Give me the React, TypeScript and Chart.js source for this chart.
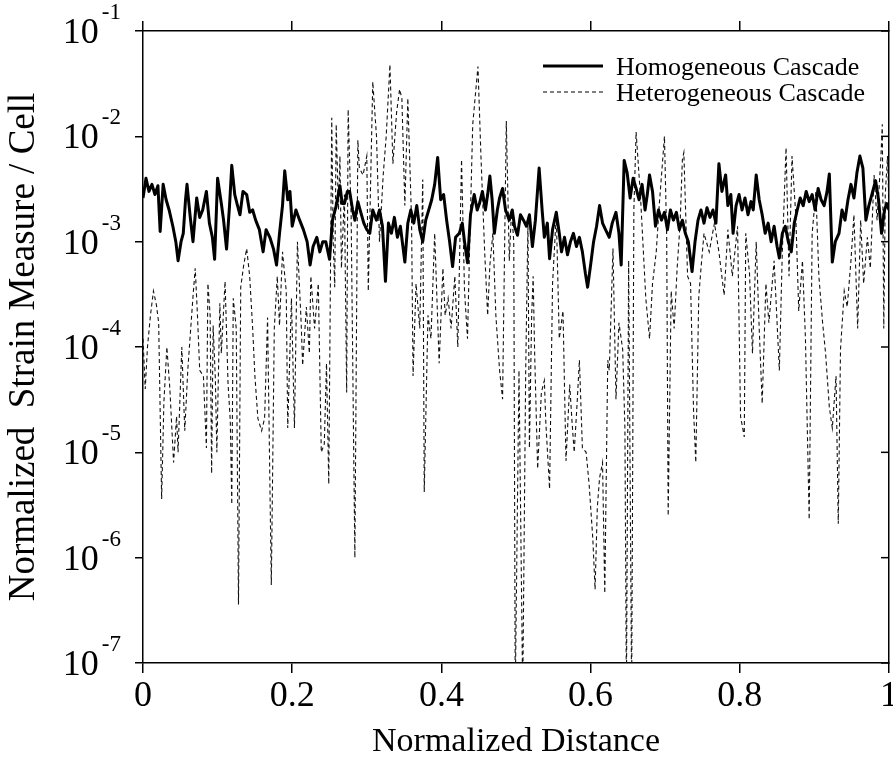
import React, { useEffect, useRef } from 'react';
import { Chart, registerables } from 'chart.js';

Chart.register(...registerables);

// ---------- data ----------
const homX = [
  0.000, 0.004, 0.008, 0.012, 0.016, 0.020, 0.023, 0.027, 0.031, 0.035, 0.040, 0.044, 0.047, 0.051, 0.054, 0.057, 0.059, 0.063, 0.067, 0.070,
  0.072, 0.076, 0.080, 0.085, 0.089, 0.093, 0.096, 0.100, 0.105, 0.108, 0.112, 0.116, 0.119, 0.123, 0.126, 0.130, 0.134, 0.139, 0.143, 0.147,
  0.151, 0.156, 0.161, 0.165, 0.170, 0.175, 0.179, 0.183, 0.187, 0.190, 0.194, 0.197, 0.200, 0.205, 0.210, 0.215, 0.220, 0.224, 0.228, 0.233,
  0.237, 0.241, 0.245, 0.250, 0.254, 0.259, 0.264, 0.267, 0.270, 0.274, 0.277, 0.281, 0.284, 0.288, 0.291, 0.296, 0.300, 0.304, 0.308, 0.313,
  0.317, 0.321, 0.325, 0.329, 0.333, 0.337, 0.341, 0.345, 0.351, 0.355, 0.359, 0.363, 0.367, 0.371, 0.375, 0.379, 0.383, 0.387, 0.391, 0.395,
  0.399, 0.403, 0.407, 0.411, 0.415, 0.419, 0.424, 0.428, 0.431, 0.435, 0.439, 0.444, 0.448, 0.451, 0.455, 0.459, 0.462, 0.465, 0.468, 0.471,
  0.475, 0.478, 0.482, 0.486, 0.491, 0.495, 0.498, 0.502, 0.506, 0.510, 0.514, 0.518, 0.522, 0.526, 0.531, 0.535, 0.538, 0.542, 0.545, 0.549,
  0.554, 0.558, 0.561, 0.565, 0.569, 0.573, 0.577, 0.581, 0.585, 0.589, 0.593, 0.596, 0.600, 0.604, 0.608, 0.612, 0.616, 0.620, 0.625, 0.629,
  0.634, 0.638, 0.641, 0.645, 0.649, 0.653, 0.657, 0.661, 0.665, 0.669, 0.673, 0.676, 0.679, 0.683, 0.687, 0.691, 0.695, 0.699, 0.703, 0.707,
  0.711, 0.715, 0.719, 0.723, 0.727, 0.731, 0.736, 0.740, 0.744, 0.748, 0.752, 0.756, 0.760, 0.764, 0.768, 0.772, 0.776, 0.781, 0.784, 0.788,
  0.791, 0.795, 0.799, 0.803, 0.807, 0.811, 0.815, 0.818, 0.822, 0.826, 0.830, 0.834, 0.838, 0.842, 0.846, 0.850, 0.853, 0.857, 0.861, 0.865,
  0.869, 0.873, 0.877, 0.881, 0.885, 0.889, 0.893, 0.897, 0.901, 0.905, 0.909, 0.913, 0.917, 0.920, 0.924, 0.928, 0.933, 0.937, 0.941, 0.945,
  0.949, 0.953, 0.957, 0.961, 0.965, 0.969, 0.973, 0.977, 0.982, 0.986, 0.990, 0.994, 0.997, 1.000,
];
const homY = [
  2.6e-3, 4.0e-3, 3.0e-3, 3.5e-3, 2.8e-3, 3.4e-3, 1.25e-3, 3.5e-3, 2.5e-3, 2.0e-3, 1.4e-3, 1.0e-3, 6.6e-4, 1.0e-3, 1.2e-3, 2.5e-3, 3.5e-3, 1.8e-3, 1.0e-3, 1.8e-3,
  2.6e-3, 1.7e-3, 2.0e-3, 3.0e-3, 1.5e-3, 1.1e-3, 6.8e-4, 4.0e-3, 2.3e-3, 1.6e-3, 8.5e-4, 2.2e-3, 5.3e-3, 2.8e-3, 2.3e-3, 1.8e-3, 3.0e-3, 2.8e-3, 1.9e-3, 2.0e-3,
  1.6e-3, 1.3e-3, 8.0e-4, 1.3e-3, 1.1e-3, 8.5e-4, 6.0e-4, 1.2e-3, 2.2e-3, 4.7e-3, 2.5e-3, 3.0e-3, 1.4e-3, 2.0e-3, 1.6e-3, 1.3e-3, 1.0e-3, 6.0e-4, 9.0e-4, 1.1e-3,
  8.0e-4, 1.0e-3, 1.0e-3, 6.8e-4, 1.6e-3, 2.2e-3, 3.4e-3, 2.3e-3, 2.3e-3, 3.0e-3, 3.0e-3, 2.0e-3, 1.6e-3, 2.4e-3, 2.0e-3, 1.5e-3, 1.3e-3, 1.2e-3, 2.0e-3, 1.6e-3,
  2.0e-3, 1.4e-3, 4.2e-4, 1.5e-3, 1.2e-3, 1.7e-3, 1.1e-3, 1.4e-3, 6.4e-4, 1.5e-3, 2.0e-3, 1.5e-3, 2.2e-3, 1.3e-3, 1.0e-3, 1.6e-3, 2.0e-3, 2.5e-3, 3.5e-3, 6.3e-3,
  2.5e-3, 2.8e-3, 1.6e-3, 1.0e-3, 5.8e-4, 1.1e-3, 1.2e-3, 1.5e-3, 1.0e-3, 6.3e-4, 1.8e-3, 2.8e-3, 2.0e-3, 2.3e-3, 3.0e-3, 2.0e-3, 2.8e-3, 4.2e-3, 2.5e-3, 1.2e-3,
  2.0e-3, 2.6e-3, 3.2e-3, 2.0e-3, 1.6e-3, 2.0e-3, 1.4e-3, 1.15e-3, 1.8e-3, 1.6e-3, 1.4e-3, 1.8e-3, 9.0e-4, 1.6e-3, 5.0e-3, 2.0e-3, 1.1e-3, 1.5e-3, 6.9e-4, 1.3e-3,
  1.9e-3, 1.2e-3, 8.0e-4, 1.1e-3, 7.5e-4, 1.0e-3, 1.2e-3, 9.0e-4, 1.1e-3, 8.0e-4, 5.0e-4, 3.7e-4, 6.0e-4, 1.0e-3, 1.4e-3, 2.2e-3, 1.5e-3, 1.3e-3, 1.1e-3, 1.5e-3,
  1.9e-3, 1.2e-3, 6.0e-4, 5.9e-3, 4.5e-3, 2.6e-3, 4.0e-3, 3.2e-3, 2.5e-3, 3.5e-3, 2.0e-3, 2.8e-3, 4.3e-3, 3.0e-3, 1.4e-3, 2.0e-3, 1.6e-3, 1.9e-3, 1.3e-3, 2.0e-3,
  1.6e-3, 1.9e-3, 1.3e-3, 1.6e-3, 1.2e-3, 1.0e-3, 5.2e-4, 1.0e-3, 1.6e-3, 2.0e-3, 1.5e-3, 2.1e-3, 1.7e-3, 2.0e-3, 1.5e-3, 5.5e-3, 3.0e-3, 4.3e-3, 2.2e-3, 2.8e-3,
  1.2e-3, 2.2e-3, 2.8e-3, 2.0e-3, 2.6e-3, 1.8e-3, 2.4e-3, 2.0e-3, 4.3e-3, 2.5e-3, 1.8e-3, 1.2e-3, 1.5e-3, 1.0e-3, 1.4e-3, 9.0e-4, 7.0e-4, 1.2e-3, 1.4e-3, 1.0e-3,
  8.0e-4, 1.5e-3, 2.0e-3, 2.6e-3, 2.2e-3, 3.0e-3, 2.4e-3, 2.8e-3, 2.0e-3, 3.2e-3, 2.5e-3, 2.2e-3, 3.0e-3, 4.4e-3, 6.4e-4, 1.0e-3, 1.2e-3, 2.0e-3, 1.6e-3, 2.5e-3,
  3.5e-3, 2.6e-3, 4.5e-3, 6.5e-3, 5.0e-3, 1.6e-3, 2.2e-3, 2.8e-3, 3.8e-3, 2.5e-3, 1.2e-3, 2.0e-3, 2.3e-3, 2.0e-3,
];

const hetX = [
  0.000, 0.003, 0.006, 0.010, 0.014, 0.018, 0.021, 0.025, 0.028, 0.032, 0.036, 0.041, 0.045, 0.047, 0.052, 0.056, 0.060, 0.063, 0.067, 0.070,
  0.073, 0.076, 0.081, 0.085, 0.087, 0.090, 0.092, 0.094, 0.097, 0.099, 0.103, 0.105, 0.110, 0.114, 0.117, 0.119, 0.121, 0.125, 0.128, 0.131,
  0.135, 0.139, 0.143, 0.147, 0.150, 0.154, 0.159, 0.163, 0.167, 0.172, 0.176, 0.180, 0.183, 0.187, 0.192, 0.194, 0.199, 0.203, 0.207, 0.212,
  0.214, 0.219, 0.223, 0.225, 0.230, 0.235, 0.239, 0.243, 0.246, 0.249, 0.253, 0.255, 0.257, 0.259, 0.262, 0.264, 0.266, 0.270, 0.273, 0.275,
  0.279, 0.284, 0.288, 0.290, 0.295, 0.300, 0.302, 0.308, 0.313, 0.317, 0.322, 0.326, 0.331, 0.335, 0.340, 0.344, 0.347, 0.351, 0.355, 0.360,
  0.362, 0.366, 0.371, 0.375, 0.377, 0.382, 0.386, 0.391, 0.397, 0.402, 0.405, 0.409, 0.413, 0.418, 0.422, 0.427, 0.431, 0.435, 0.438, 0.442,
  0.449, 0.453, 0.458, 0.462, 0.465, 0.469, 0.473, 0.478, 0.482, 0.487, 0.491, 0.494, 0.497, 0.499, 0.504, 0.509, 0.513, 0.516, 0.518, 0.521,
  0.523, 0.525, 0.529, 0.534, 0.538, 0.540, 0.545, 0.549, 0.554, 0.558, 0.563, 0.567, 0.572, 0.575, 0.578, 0.582, 0.585, 0.589, 0.594, 0.598,
  0.603, 0.606, 0.609, 0.612, 0.616, 0.619, 0.623, 0.625, 0.630, 0.634, 0.638, 0.643, 0.646, 0.648, 0.651, 0.655, 0.658, 0.661, 0.667, 0.674,
  0.679, 0.683, 0.688, 0.692, 0.699, 0.702, 0.704, 0.708, 0.712, 0.716, 0.720, 0.723, 0.725, 0.730, 0.734, 0.738, 0.741, 0.745, 0.748, 0.752,
  0.759, 0.766, 0.772, 0.779, 0.784, 0.790, 0.797, 0.801, 0.806, 0.808, 0.813, 0.817, 0.822, 0.826, 0.830, 0.835, 0.839, 0.846, 0.853, 0.857,
  0.862, 0.866, 0.870, 0.875, 0.879, 0.884, 0.888, 0.893, 0.897, 0.902, 0.906, 0.911, 0.915, 0.920, 0.924, 0.929, 0.932, 0.935, 0.940, 0.944,
  0.949, 0.953, 0.958, 0.962, 0.966, 0.971, 0.975, 0.980, 0.984, 0.989, 0.991, 0.993, 0.995, 0.998, 1.000,
];
const hetY = [
  1.2e-4, 4.0e-5, 1.0e-4, 2.0e-4, 3.4e-4, 2.5e-4, 1.7e-4, 3.6e-6, 3.0e-5, 1.0e-4, 4.0e-5, 8.0e-6, 2.2e-5, 1.0e-5, 1.0e-4, 1.6e-5, 6.0e-5, 1.2e-4, 3.0e-4, 5.6e-4,
  2.0e-4, 6.0e-5, 5.3e-5, 1.1e-5, 4.0e-4, 2.0e-4, 6.3e-6, 1.6e-4, 5.0e-5, 1.0e-5, 2.6e-4, 8.7e-5, 4.2e-4, 4.5e-5, 2.0e-5, 3.2e-6, 2.9e-4, 1.5e-4, 3.6e-7, 3.7e-4,
  6.0e-4, 8.6e-4, 4.7e-4, 1.5e-4, 5.3e-5, 2.1e-5, 1.6e-5, 2.1e-5, 1.9e-4, 5.5e-7, 1.5e-4, 4.7e-4, 1.6e-4, 8.0e-4, 3.4e-4, 1.7e-5, 2.9e-4, 1.7e-5, 1.0e-3, 1.7e-4,
  6.7e-5, 2.4e-4, 8.7e-5, 4.7e-4, 1.5e-4, 4.0e-4, 1.0e-5, 1.2e-5, 7.0e-5, 5.0e-6, 1.5e-2, 1.0e-3, 3.7e-4, 1.3e-2, 2.0e-3, 6.5e-3, 5.6e-4, 2.8e-3, 3.7e-5, 1.8e-2,
  1.8e-3, 1.0e-6, 9.2e-3, 5.0e-3, 4.3e-3, 6.5e-3, 3.4e-4, 3.3e-2, 1.0e-2, 1.0e-3, 4.3e-3, 1.0e-2, 4.8e-2, 5.5e-3, 1.7e-2, 2.8e-2, 2.3e-2, 2.2e-3, 2.3e-2, 1.6e-3,
  5.3e-5, 4.0e-4, 1.5e-4, 3.9e-3, 4.2e-6, 2.0e-4, 1.2e-4, 1.2e-3, 7.0e-5, 5.6e-4, 2.0e-4, 2.9e-4, 1.5e-4, 4.7e-4, 1.0e-4, 6.0e-3, 3.4e-4, 1.2e-4, 1.0e-3, 1.3e-2,
  4.6e-2, 6.5e-3, 8.0e-4, 2.0e-4, 6.0e-4, 1.2e-3, 2.0e-4, 6.0e-5, 3.2e-5, 1.4e-2, 6.6e-4, 2.0e-3, 1.0e-3, 5.0e-8, 6.0e-5, 5.0e-8, 6.0e-5, 1.5e-3, 1.1e-5, 2.0e-4,
  4.7e-4, 8.7e-5, 7.0e-6, 3.7e-5, 4.8e-5, 1.9e-5, 4.5e-6, 4.0e-4, 1.8e-3, 1.2e-4, 2.2e-4, 8.3e-6, 4.4e-5, 2.0e-5, 1.0e-5, 3.0e-5, 7.5e-5, 1.1e-5, 1.0e-5, 5.0e-6,
  1.5e-6, 5.0e-7, 3.0e-6, 5.7e-6, 8.0e-6, 4.6e-7, 7.5e-5, 6.0e-5, 8.6e-4, 3.2e-5, 1.7e-4, 9.5e-5, 1.7e-5, 5.0e-8, 6.6e-4, 5.0e-8, 2.0e-3, 1.1e-2, 2.6e-3, 2.9e-4,
  1.2e-4, 4.0e-4, 8.0e-4, 2.2e-3, 1.0e-2, 1.1e-3, 2.5e-6, 3.4e-4, 1.5e-4, 5.6e-4, 1.5e-3, 6.0e-3, 7.0e-3, 4.7e-4, 4.0e-4, 2.5e-5, 8.0e-6, 3.0e-4, 5.6e-4, 1.2e-3,
  8.0e-4, 1.5e-3, 8.0e-4, 3.1e-4, 1.3e-3, 4.7e-4, 1.4e-3, 2.2e-5, 1.4e-5, 1.2e-3, 5.0e-4, 8.7e-5, 1.0e-3, 1.5e-4, 2.9e-5, 4.0e-4, 1.7e-4, 6.6e-4, 6.0e-5, 8.0e-4,
  7.8e-3, 4.7e-4, 6.5e-3, 1.8e-3, 2.2e-4, 6.6e-4, 1.2e-4, 2.3e-6, 1.2e-3, 3.0e-3, 4.7e-4, 1.7e-4, 8.7e-5, 2.7e-5, 1.7e-5, 5.3e-5, 2.1e-6, 9.5e-5, 3.4e-4, 2.4e-4,
  6.6e-4, 1.8e-3, 1.5e-4, 1.6e-3, 4.0e-4, 1.1e-3, 5.6e-4, 4.3e-3, 1.6e-3, 6.0e-3, 1.3e-2, 1.5e-4, 2.8e-3, 6.5e-3, 2.0e-3,
];

const seriesLabels = ['Homogeneous Cascade', 'Heterogeneous Cascade'];
const xTickValues = [0, 0.2, 0.4, 0.6, 0.8, 1];
const xTickLabels = ['0', '0.2', '0.4', '0.6', '0.8', '1'];
const yTickValues = [1e-1, 1e-2, 1e-3, 1e-4, 1e-5, 1e-6, 1e-7];
const yTickBases = ['10', '10', '10', '10', '10', '10', '10'];
const yTickExponents = ['-1', '-2', '-3', '-4', '-5', '-6', '-7'];
const xTitle = 'Normalized Distance';
const yTitle = 'Normalized  Strain Measure / Cell';

const FONT = '"Liberation Serif", "Times New Roman", serif';

const decorPlugin = {
  id: 'decor',
  afterDraw(chart: any) {
    const ctx = chart.ctx;
    const ys = chart.scales.y;
    const area = chart.chartArea;
    ctx.save();
    ctx.fillStyle = '#000';
    ctx.strokeStyle = '#000';
    ctx.textAlign = 'left';
    ctx.textBaseline = 'alphabetic';
    // y tick labels (10 with superscript exponent) + inward right ticks
    yTickValues.forEach((v, i) => {
      const py = ys.getPixelForValue(v);
      ctx.font = `23px ${FONT}`;
      const expW = ctx.measureText(yTickExponents[i]).width;
      ctx.font = `36px ${FONT}`;
      const baseW = ctx.measureText(yTickBases[i]).width;
      const right = area.left - 22;
      const x0 = right - expW - baseW - 3;
      ctx.fillText(yTickBases[i], x0, py + 12);
      ctx.font = `23px ${FONT}`;
      ctx.fillText(yTickExponents[i], x0 + baseW + 3, py - 12);
      ctx.lineWidth = 1.5;
      ctx.beginPath();
      ctx.moveTo(area.right, py);
      ctx.lineTo(area.right - 8, py);
      ctx.stroke();
    });
    // legend
    const lx0 = area.right - 346;
    const lx1 = area.right - 286;
    const tx = area.right - 273;
    chart.data.datasets.forEach((ds: any, i: number) => {
      const ly = area.top + 35 + i * 26;
      ctx.save();
      ctx.lineWidth = ds.borderWidth;
      ctx.setLineDash(ds.borderDash || []);
      ctx.beginPath();
      ctx.moveTo(lx0, ly);
      ctx.lineTo(lx1, ly);
      ctx.stroke();
      ctx.restore();
      ctx.font = `26px ${FONT}`;
      ctx.fillText(ds.label, tx, ly + 9);
    });
    ctx.restore();
  },
};

export default function App() {
  const ref = useRef<HTMLCanvasElement | null>(null);
  useEffect(() => {
    if (!ref.current) return;
    const axisColor = '#000';
    const chart = new Chart(ref.current, {
      type: 'line',
      data: {
        datasets: [
          {
            label: seriesLabels[0],
            data: homX.map((x, i) => ({ x, y: homY[i] })),
            borderColor: '#000',
            borderWidth: 3,
            borderJoinStyle: 'round',
            pointRadius: 0,
            tension: 0,
            fill: false,
          },
          {
            label: seriesLabels[1],
            data: hetX.map((x, i) => ({ x, y: hetY[i] })),
            borderColor: '#111',
            borderWidth: 1.1,
            borderDash: [4, 3],
            pointRadius: 0,
            tension: 0,
            fill: false,
          },
        ],
      },
      options: {
        animation: false,
        responsive: false,
        layout: { padding: 0 },
        plugins: { legend: { display: false }, tooltip: { enabled: false } },
        scales: {
          x: {
            type: 'linear',
            position: 'bottom',
            min: 0,
            max: 1,
            afterBuildTicks: (s: any) => { s.ticks = xTickValues.map((value) => ({ value })); },
            afterFit: (s: any) => { s.height = 106; s.paddingLeft = 0; s.paddingRight = 0; },
            ticks: {
              autoSkip: false,
              maxRotation: 0,
              padding: 2,
              color: '#000',
              font: { family: FONT, size: 36 },
              callback: (_v: any, i: number) => xTickLabels[i],
            },
            grid: { drawOnChartArea: false, drawTicks: true, tickLength: 10, color: axisColor, lineWidth: 1.5 },
            border: { display: true, color: axisColor, width: 1.5 },
            title: { display: true, text: xTitle, color: '#000', font: { family: FONT, size: 34 }, padding: { top: 0, bottom: 7 } },
          },
          xTop: {
            type: 'linear',
            position: 'top',
            min: 0,
            max: 1,
            afterBuildTicks: (s: any) => { s.ticks = xTickValues.map((value) => ({ value })); },
            afterFit: (s: any) => { s.height = 31; s.paddingLeft = 0; s.paddingRight = 0; },
            ticks: { display: false },
            grid: { drawOnChartArea: false, drawTicks: true, tickLength: 10, color: axisColor, lineWidth: 1.5 },
            border: { display: true, color: axisColor, width: 1.5 },
          },
          y: {
            type: 'logarithmic',
            position: 'left',
            min: 1e-7,
            max: 1e-1,
            afterBuildTicks: (s: any) => { s.ticks = yTickValues.map((value) => ({ value, major: true })); },
            afterFit: (s: any) => { s.width = 143; s.paddingTop = 0; s.paddingBottom = 0; },
            ticks: { display: false },
            grid: { drawOnChartArea: false, drawTicks: true, tickLength: 8, color: axisColor, lineWidth: 1.5 },
            border: { display: true, color: axisColor, width: 1.5 },
            title: { display: true, text: yTitle, color: '#000', font: { family: FONT, size: 37 }, padding: { top: 2, bottom: 0 } },
          },
          yRight: {
            type: 'logarithmic',
            position: 'right',
            min: 1e-7,
            max: 1e-1,
            afterBuildTicks: (s: any) => { s.ticks = yTickValues.map((value) => ({ value, major: true })); },
            afterFit: (s: any) => { s.width = 4; s.paddingTop = 0; s.paddingBottom = 0; },
            ticks: { display: false },
            grid: { drawOnChartArea: false, drawTicks: false, color: axisColor },
            border: { display: true, color: axisColor, width: 1.5 },
          },
        },
      },
      plugins: [decorPlugin],
    } as any);
    return () => chart.destroy();
  }, []);

  return (
    <div style={{ position: 'fixed', left: 0, top: 0, width: 893, height: 769, background: '#fff' }}>
      <canvas ref={ref} width={893} height={769} style={{ display: 'block' }} />
    </div>
  );
}
